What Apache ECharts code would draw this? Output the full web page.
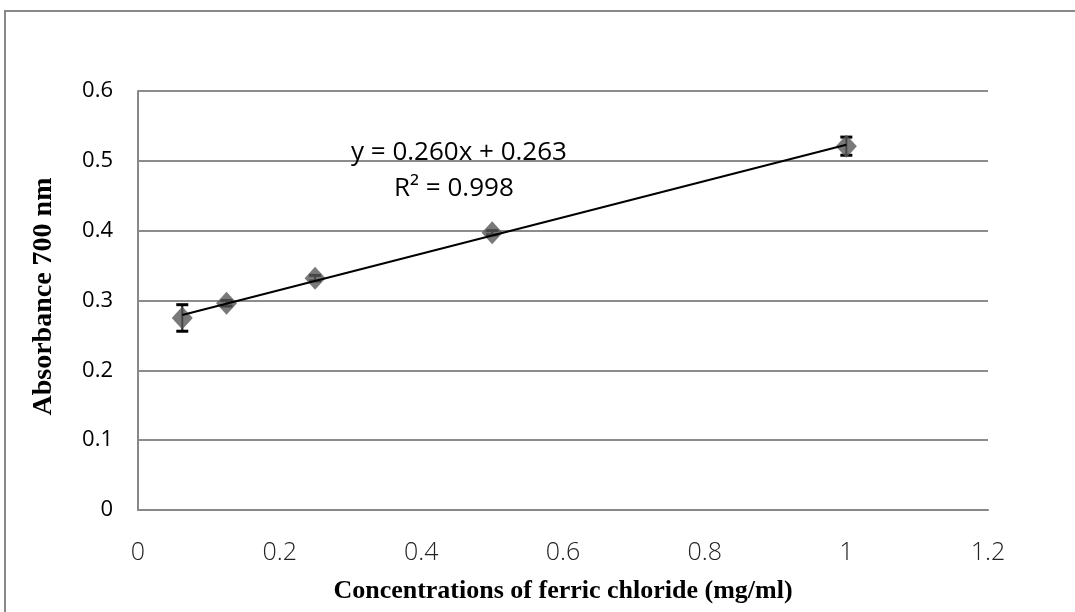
<!DOCTYPE html>
<html>
<head>
<meta charset="utf-8">
<script src="https://cdn.jsdelivr.net/npm/echarts@6/dist/echarts.min.js"></script>
<style>html,body{margin:0;padding:0;background:#fff;}#c{width:1075px;height:612px;}</style>
</head>
<body>
<div id="c"></div>
<script>
var concentrations = [0.0625, 0.125, 0.25, 0.5, 1];
var absorbance = [0.275, 0.296, 0.332, 0.397, 0.521];
var errors = [0.019, 0.004, 0.004, 0.003, 0.013];
var xTicks = [0, 0.2, 0.4, 0.6, 0.8, 1, 1.2];
var yTicks = [0, 0.1, 0.2, 0.3, 0.4, 0.5, 0.6];
var trendSlope = 0.260;
var trendIntercept = 0.263;
var trendRange = [0.0625, 1];
var equationText = 'y = 0.260x + 0.263';
var r2Text = 'R² = 0.998';

var pts = concentrations.map(function (x, i) { return [x, absorbance[i]]; });
var errData = concentrations.map(function (x, i) { return [x, absorbance[i] - errors[i], absorbance[i] + errors[i]]; });
var trendData = trendRange.map(function (x) { return [x, trendSlope * x + trendIntercept]; });

var chart = echarts.init(document.getElementById('c'));
chart.setOption({
  animation: false,
  backgroundColor: '#fff',
  graphic: [
    { type: 'rect', shape: { x: 5, y: 11, width: 1200, height: 800 }, style: { fill: 'none', stroke: '#888', lineWidth: 2 }, z: 0 },
    { type: 'text', left: 351, top: 140, style: { text: equationText, font: '26px "Open Sans"', fill: '#000' }, z: 10 },
    { type: 'text', left: 394, top: 176, style: { text: r2Text, font: '26px "Open Sans"', fill: '#000' }, z: 10 }
  ],
  grid: { left: 138, right: 87, top: 91, bottom: 102 },
  xAxis: {
    type: 'value', min: 0, max: 1.2, interval: 0.2,
    name: 'Concentrations of ferric chloride (mg/ml)',
    nameLocation: 'middle', nameGap: 68,
    nameTextStyle: { fontFamily: '"Liberation Serif", "Times New Roman", serif', fontWeight: 'bold', fontSize: 26, color: '#000' },
    axisLine: { show: true, onZero: false, lineStyle: { color: '#888', width: 2 } },
    axisTick: { show: false },
    splitLine: { show: false },
    axisLabel: { margin: 30, fontFamily: '"Open Sans"', fontWeight: 300, fontSize: 25, color: '#222',
      formatter: function (v) { var s = xTicks.find(function (t) { return Math.abs(t - v) < 1e-9; }); return s === undefined ? '' : String(s); } }
  },
  yAxis: {
    type: 'value', min: 0, max: 0.6, interval: 0.1,
    name: 'Absorbance 700 nm',
    nameLocation: 'middle', nameGap: 80,
    nameTextStyle: { fontFamily: '"Liberation Serif", "Times New Roman", serif', fontWeight: 'bold', fontSize: 28, color: '#000', padding: [0, 0, 0, 8] },
    axisLine: { show: true, lineStyle: { color: '#888', width: 2 } },
    axisTick: { show: false },
    splitLine: { show: true, lineStyle: { color: '#8c8c8c', width: 2 } },
    axisLabel: { margin: 25, fontFamily: '"Open Sans"', fontSize: 22, color: '#000',
      formatter: function (v) { var s = yTicks.find(function (t) { return Math.abs(t - v) < 1e-9; }); return s === undefined ? '' : String(s); } }
  },
  series: [
    {
      type: 'custom', data: errData, z: 2,
      renderItem: function (params, api) {
        var x = api.value(0);
        var lo = api.coord([x, api.value(1)]);
        var hi = api.coord([x, api.value(2)]);
        var w = 6;
        return { type: 'group', children: [
          { type: 'line', shape: { x1: lo[0], y1: lo[1], x2: hi[0], y2: hi[1] }, style: { stroke: '#000', lineWidth: 2 } },
          { type: 'line', shape: { x1: lo[0] - w, y1: lo[1], x2: lo[0] + w, y2: lo[1] }, style: { stroke: '#000', lineWidth: 3 } },
          { type: 'line', shape: { x1: hi[0] - w, y1: hi[1], x2: hi[0] + w, y2: hi[1] }, style: { stroke: '#000', lineWidth: 3 } }
        ] };
      }
    },
    {
      type: 'scatter', data: pts, symbol: 'diamond', symbolSize: [21, 23],
      itemStyle: { color: '#575757' }, z: 3
    },
    {
      type: 'line', data: trendData, symbol: 'none', z: 5,
      lineStyle: { color: '#000', width: 2 }
    }
  ]
});
</script>
</body>
</html>
